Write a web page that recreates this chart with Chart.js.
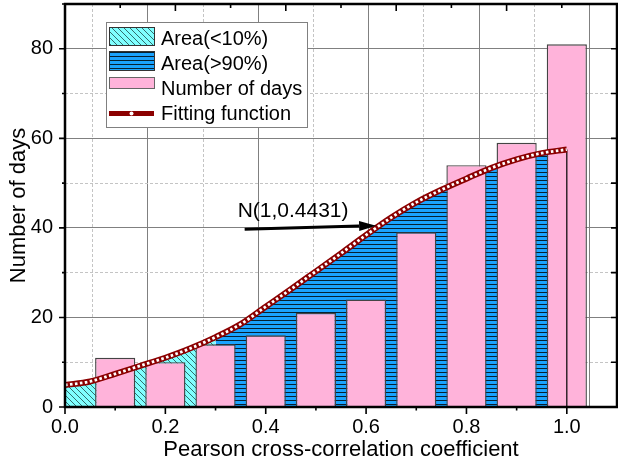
<!DOCTYPE html>
<html>
<head>
<meta charset="utf-8">
<title>Pearson cross-correlation histogram</title>
<script src="https://cdn.jsdelivr.net/npm/chart.js@4.4.0/dist/chart.umd.min.js"></script>
<style>
  html, body { margin: 0; padding: 0; background: #fff; }
</style>
</head>
<body>
<canvas id="chart" width="618" height="464"></canvas>
<script>
// histogram of days per correlation bin
const binCenters = [0.1, 0.2, 0.3, 0.4, 0.5, 0.6, 0.7, 0.8, 0.9, 1.0];
const dayCounts = [11, 10, 14, 16, 21, 24, 39, 54, 59, 81];

// fitted curve
const fitX = [0, 0.05, 0.1, 0.15, 0.2, 0.25, 0.3, 0.35, 0.4, 0.45, 0.5,
              0.55, 0.6, 0.65, 0.7, 0.75, 0.8, 0.85, 0.9, 0.95, 1.0];
const fitY = [4.9, 5.7, 7.4, 9.2, 11.0, 13.1, 15.6, 18.5, 22.4, 26.3, 30.3,
              34.3, 38.4, 42.3, 45.7, 48.5, 51.0, 53.4, 55.3, 56.7, 57.5];
const areaSplit = 0.3;   // where the shaded area changes colour

const xTickLabels = ['0.0', '0.2', '0.4', '0.6', '0.8', '1.0'];
const yTickLabels = ['0', '20', '40', '60', '80'];
const legendLabels = ['Area(<10%)', 'Area(>90%)', 'Number of days', 'Fitting function'];
const noteText = 'N(1,0.4431)';
// arrow of the note, in data units: [x, y]
const noteAt = [0.344, 42.5];
const arrowFrom = [0.358, 39.7];
const arrowTo = [0.62, 40.5];

const FONT = "'Liberation Sans', Arial, sans-serif";
const PINK = '#FFB3DA';
const RED = '#8B0000';

function tile(size, paint) {
  const c = document.createElement('canvas');
  c.width = c.height = size;
  paint(c.getContext('2d'), size);
  return c.getContext('2d').createPattern(c, 'repeat');
}
const cyanHatch = tile(6, (g, s) => {
  g.fillStyle = '#80FFFF';
  g.fillRect(0, 0, s, s);
  g.strokeStyle = '#2a5c5c';
  g.lineWidth = 0.9;
  g.beginPath();
  for (const o of [-s, 0, s]) { g.moveTo(o, 0); g.lineTo(o + s, s); }
  g.stroke();
});
const blueStripes = tile(4, (g, s) => {
  g.fillStyle = '#1AA3FF';
  g.fillRect(0, 0, s, s);
  g.fillStyle = 'rgba(0,0,0,0.8)';
  g.fillRect(0, 0, s, 1);
});

const fitPts = fitX.map((x, i) => ({x, y: fitY[i]}));
const lowPts = fitPts.filter(p => p.x <= areaSplit + 1e-9);
const highPts = fitPts.filter(p => p.x >= areaSplit - 1e-9);
const barPts = binCenters.map((x, i) => ({x, y: dayCounts[i]}));
const last = fitPts[fitPts.length - 1];
const dropPts = [{x: last.x, y: 0}, {x: last.x, y: last.y}];

const majorX = v => Math.round(v * 10) % 2 === 0;
const majorY = v => Math.round(v) % 20 === 0;
const tickVal = c => (c && c.tick ? c.tick.value : 0);
// fixed axis sizes, no extra label padding
const fixSize = (w, h) => s => {
  if (w !== null) s.width = w;
  if (h !== null) s.height = h;
  s.paddingTop = s.paddingBottom = s.paddingLeft = s.paddingRight = 0;
};

const framePlugin = {
  id: 'frame',
  afterDatasetsDraw(chart) {
    const {ctx, chartArea: a, scales} = chart;
    ctx.save();
    ctx.strokeStyle = '#000';
    ctx.lineWidth = 1.6;
    ctx.beginPath();
    scales.x.ticks.forEach(t => {
      const px = scales.x.getPixelForValue(t.value);
      if (px > a.right - 2) return;
      ctx.moveTo(px, a.bottom);
      ctx.lineTo(px, a.bottom + (majorX(t.value) ? 7 : 3.5));
    });
    scales.x2.ticks.forEach(t => {
      const px = scales.x2.getPixelForValue(t.value);
      ctx.moveTo(px, a.top);
      ctx.lineTo(px, a.top + (majorX(t.value) ? 7 : 4));
    });
    scales.y.ticks.forEach(t => {
      const py = scales.y.getPixelForValue(t.value);
      ctx.moveTo(a.left, py);
      ctx.lineTo(a.left - (majorY(t.value) ? 6 : 3), py);
      ctx.moveTo(a.right, py);
      ctx.lineTo(a.right - 6, py);
    });
    ctx.stroke();
    ctx.lineWidth = 2.5;
    ctx.strokeRect(a.left, a.top, a.right - a.left, a.bottom - a.top);
    ctx.restore();
  },
  afterDraw(chart) {
    const {ctx, scales: {x, y}} = chart;
    ctx.save();
    // note with arrow
    ctx.fillStyle = '#000';
    ctx.font = '21px ' + FONT;
    ctx.textBaseline = 'alphabetic';
    ctx.fillText(noteText, x.getPixelForValue(noteAt[0]), y.getPixelForValue(noteAt[1]));
    const x0 = x.getPixelForValue(arrowFrom[0]), y0 = y.getPixelForValue(arrowFrom[1]);
    const x1 = x.getPixelForValue(arrowTo[0]), y1 = y.getPixelForValue(arrowTo[1]);
    const ang = Math.atan2(y1 - y0, x1 - x0);
    const hl = 17, hw = 5;
    const bx = x1 - hl * Math.cos(ang), by = y1 - hl * Math.sin(ang);
    ctx.strokeStyle = '#000';
    ctx.lineWidth = 3;
    ctx.beginPath();
    ctx.moveTo(x0, y0);
    ctx.lineTo(bx, by);
    ctx.stroke();
    ctx.beginPath();
    ctx.moveTo(x1, y1);
    ctx.lineTo(bx + hw * Math.sin(ang), by - hw * Math.cos(ang));
    ctx.lineTo(bx - hw * Math.sin(ang), by + hw * Math.cos(ang));
    ctx.closePath();
    ctx.fill();

    // legend box
    ctx.fillStyle = '#fff';
    ctx.fillRect(106, 22, 201, 105);
    ctx.strokeStyle = '#808080';
    ctx.lineWidth = 1;
    ctx.strokeRect(106.5, 22.5, 201, 105);
    ctx.strokeStyle = '#333';
    ctx.fillStyle = cyanHatch;
    ctx.fillRect(109, 27, 45, 18);
    ctx.strokeRect(109.5, 27.5, 45, 18);
    ctx.fillStyle = blueStripes;
    ctx.fillRect(109, 51, 45, 19);
    ctx.strokeRect(109.5, 51.5, 45, 19);
    ctx.fillStyle = PINK;
    ctx.fillRect(109, 77, 45, 11);
    ctx.strokeStyle = '#666';
    ctx.strokeRect(109.5, 77.5, 45, 11);
    ctx.strokeStyle = RED;
    ctx.lineWidth = 5;
    ctx.beginPath();
    ctx.moveTo(109, 113.5);
    ctx.lineTo(154, 113.5);
    ctx.stroke();
    ctx.fillStyle = '#fff';
    ctx.beginPath();
    ctx.arc(131.5, 113.5, 2, 0, Math.PI * 2);
    ctx.fill();
    ctx.fillStyle = '#000';
    ctx.font = '20px ' + FONT;
    [45, 70, 95, 120].forEach((by, i) => ctx.fillText(legendLabels[i], 161, by));
    ctx.restore();
  }
};

const lineBase = {type: 'line', pointRadius: 0, cubicInterpolationMode: 'monotone'};

new Chart(document.getElementById('chart'), {
  type: 'bar',
  data: {
    datasets: [
      {...lineBase, label: legendLabels[0], data: lowPts, fill: 'origin',
        backgroundColor: cyanHatch, borderWidth: 0, borderColor: 'rgba(0,0,0,0)', order: 6},
      {...lineBase, label: legendLabels[1], data: highPts, fill: 'origin',
        backgroundColor: blueStripes, borderWidth: 0, borderColor: 'rgba(0,0,0,0)', order: 5},
      {type: 'bar', label: legendLabels[2], data: barPts, backgroundColor: PINK,
        borderColor: '#444', borderWidth: 1.4, barPercentage: 0.8, categoryPercentage: 1, order: 4},
      {...lineBase, label: 'drop', data: dropPts, borderColor: '#000', borderWidth: 1.2,
        cubicInterpolationMode: 'default', order: 3},
      {...lineBase, label: legendLabels[3], data: fitPts, borderColor: RED, borderWidth: 6, order: 2},
      {...lineBase, label: 'markers', data: fitPts, borderColor: '#fff', borderWidth: 2.8,
        borderDash: [2.6, 2.4], order: 1}
    ]
  },
  options: {
    responsive: false,
    animation: false,
    events: [],
    layout: {padding: {right: 1}},
    plugins: {legend: {display: false}, tooltip: {enabled: false}},
    scales: {
      x: {
        type: 'linear', position: 'bottom', min: 0, max: 1.1, offset: false,
        grid: {display: false, offset: false},
        border: {display: false},
        afterFit: fixSize(null, 57),
        ticks: {
          stepSize: 0.1, autoSkip: false, maxRotation: 0, padding: 0, color: '#000',
          font: {family: FONT, size: 20},
          callback: v => { const s = Number(v).toFixed(1); return xTickLabels.includes(s) ? s : ''; }
        },
        title: {display: true, text: 'Pearson cross-correlation coefficient', color: '#000',
          font: {family: FONT, size: 22, lineHeight: 1.2}, padding: {top: 0, bottom: 1}}
      },
      x2: {
        type: 'linear', position: 'top', min: 0, max: 1, offset: false,
        afterFit: fixSize(null, 4),
        ticks: {display: false, stepSize: 0.1},
        border: {display: false, dash: c => majorX(tickVal(c)) ? [] : [3, 2]},
        grid: {drawTicks: false, lineWidth: 1,
          color: c => majorX(tickVal(c)) ? '#808080' : '#c4c4c4'}
      },
      y: {
        min: 0, max: 90,
        afterFit: fixSize(65, null),
        border: {display: false, dash: c => majorY(tickVal(c)) ? [] : [3, 2]},
        grid: {drawTicks: false, lineWidth: 1,
          color: c => majorY(tickVal(c)) ? '#808080' : '#c4c4c4'},
        ticks: {
          stepSize: 10, autoSkip: false, padding: 12, color: '#000',
          font: {family: FONT, size: 20},
          callback: v => { const s = String(Math.round(v)); return yTickLabels.includes(s) ? s : ''; }
        },
        title: {display: true, text: 'Number of days', color: '#000',
          font: {family: FONT, size: 22, lineHeight: 1.2}, padding: {top: 6, bottom: 0}}
      }
    }
  },
  plugins: [framePlugin]
});
</script>
</body>
</html>
